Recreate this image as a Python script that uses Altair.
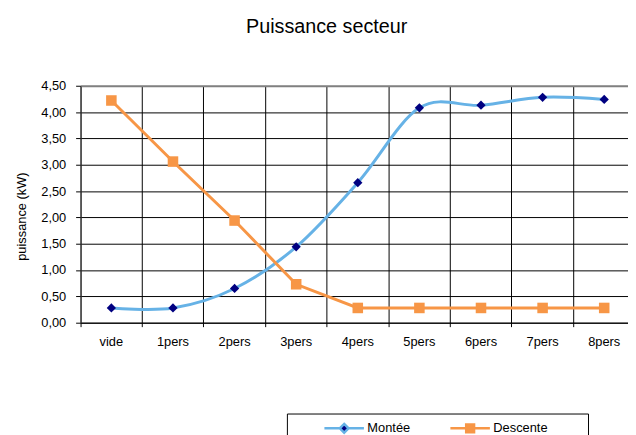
import altair as alt
import pandas as pd

# ---- data ----
categories = ["vide", "1pers", "2pers", "3pers", "4pers", "5pers", "6pers", "7pers", "8pers"]
montee = [0.28, 0.28, 0.65, 1.44, 2.66, 4.08, 4.13, 4.28, 4.24]
descente = [4.22, 3.06, 1.94, 0.73, 0.28, 0.28, 0.28, 0.28, 0.28]
series_names = ["Montée", "Descente"]
y_ticks = [0.0, 0.5, 1.0, 1.5, 2.0, 2.5, 3.0, 3.5, 4.0, 4.5]

line_colors = ["#66B2E6", "#F79646"]
marker_colors = ["#000080", "#F79646"]
# legend glyphs: a line with the marker in its middle
legend_glyphs = [
    "M-1,0H-0.22M0.22,0H1M0,-0.22L0.22,0L0,0.22L-0.22,0Z",
    "M-1,0H1M-0.2,-0.2H0.2V0.2H-0.2Z",
]

df_m = pd.DataFrame({"categorie": categories, "serie": series_names[0], "valeur": montee})
df_d = pd.DataFrame({"categorie": categories, "serie": series_names[1], "valeur": descente})
df = pd.concat([df_m, df_d], ignore_index=True)

FONT = "Liberation Sans"
PLOT_W = 554.5
FULL_W = 561.6
PLOT_H = 240

x_enc = alt.X(
    "categorie:N",
    sort=categories,
    scale=alt.Scale(type="band", paddingInner=0, paddingOuter=0, range=[0, FULL_W]),
    axis=alt.Axis(
        title=None, bandPosition=0, grid=True, gridColor="black", gridWidth=1,
        tickSize=4, tickColor="black", domainColor="black", labelAngle=0,
        labelPadding=9, labelFontSize=13, labelColor="black",
        labelFont=FONT,
    ),
)
y_enc = alt.Y(
    "valeur:Q",
    scale=alt.Scale(domain=[0, 4.5], nice=False, zero=True),
    axis=alt.Axis(
        values=y_ticks, format=".2f", labelExpr="replace(datum.label, '.', ',')",
        grid=True,
        gridColor={"condition": {"test": "datum.value >= 4.49", "value": "#808080"}, "value": "black"},
        gridWidth={"condition": {"test": "datum.value >= 4.49", "value": 2}, "value": 1},
        tickSize=5, tickColor="black", domainColor="#404040",
        labelPadding=10, labelFontSize=13, labelColor="black", labelFont=FONT,
        title="puissance (kW)", titleFont=FONT, titleFontSize=13, titleFontWeight="normal",
        titleColor="black", titleAngle=270, titleX=-60, titleY=132,
        titleBaseline="middle", titleAlign="center",
    ),
)

nb = "\u00a0"
legend = alt.Legend(
    orient="none", legendX=209, legendY=332, direction="horizontal",
    symbolSize=1600, symbolStrokeWidth=2.5, symbolOffset=28.5, clipHeight=14,
    labelFontSize=13, labelFont=FONT, labelOffset=2, labelColor="black",
    columnPadding=10.6, padding=8,
    title=nb, titleFontSize=13, titleOrient="right", titlePadding=32.5,
    strokeColor="black", fillColor="white",
)

line_m = alt.Chart(df_m).mark_line(
    interpolate="cardinal", strokeWidth=3, color=line_colors[0]
).encode(x=x_enc, y=y_enc)
line_d = alt.Chart(df_d).mark_line(strokeWidth=3, color=line_colors[1]).encode(x=x_enc, y=y_enc)
pts_m = alt.Chart(df_m).mark_point(
    shape="diamond", filled=True, size=88, opacity=1, color=marker_colors[0]
).encode(x=x_enc, y=y_enc)
pts_d = alt.Chart(df_d).mark_point(
    shape="square", filled=True, size=114, opacity=1, color=marker_colors[1]
).encode(x=x_enc, y=y_enc)

# legend carrier: no marks drawn, only the legend of the two series
legend_layer = alt.Chart(df).transform_filter("false").mark_point(
    filled=True, opacity=1, strokeWidth=2.5
).encode(
    fill=alt.Fill("serie:N", scale=alt.Scale(domain=series_names, range=marker_colors), legend=legend),
    stroke=alt.Stroke("serie:N", scale=alt.Scale(domain=series_names, range=line_colors), legend=legend),
    shape=alt.Shape("serie:N", scale=alt.Scale(domain=series_names, range=legend_glyphs), legend=legend),
)

chart = (
    alt.layer(line_m, line_d, pts_m, pts_d, legend_layer)
    .properties(
        width=PLOT_W,
        height=PLOT_H,
        autosize=alt.AutoSizeParams(type="none"),
        padding={"left": 73.5, "top": 76, "right": 0, "bottom": 111},
        title=alt.TitleParams(
            "Puissance secteur", font=FONT, fontSize=20, fontWeight="normal",
            color="black", anchor="middle", frame="group", dx=-28, offset=27,
            baseline="alphabetic",
        ),
    )
    .configure_view(fill="#FFFFCC", strokeWidth=0)
    .configure(background="white", font=FONT)
)

chart.save("out.html", embed_options={"renderer": "svg", "actions": False})
